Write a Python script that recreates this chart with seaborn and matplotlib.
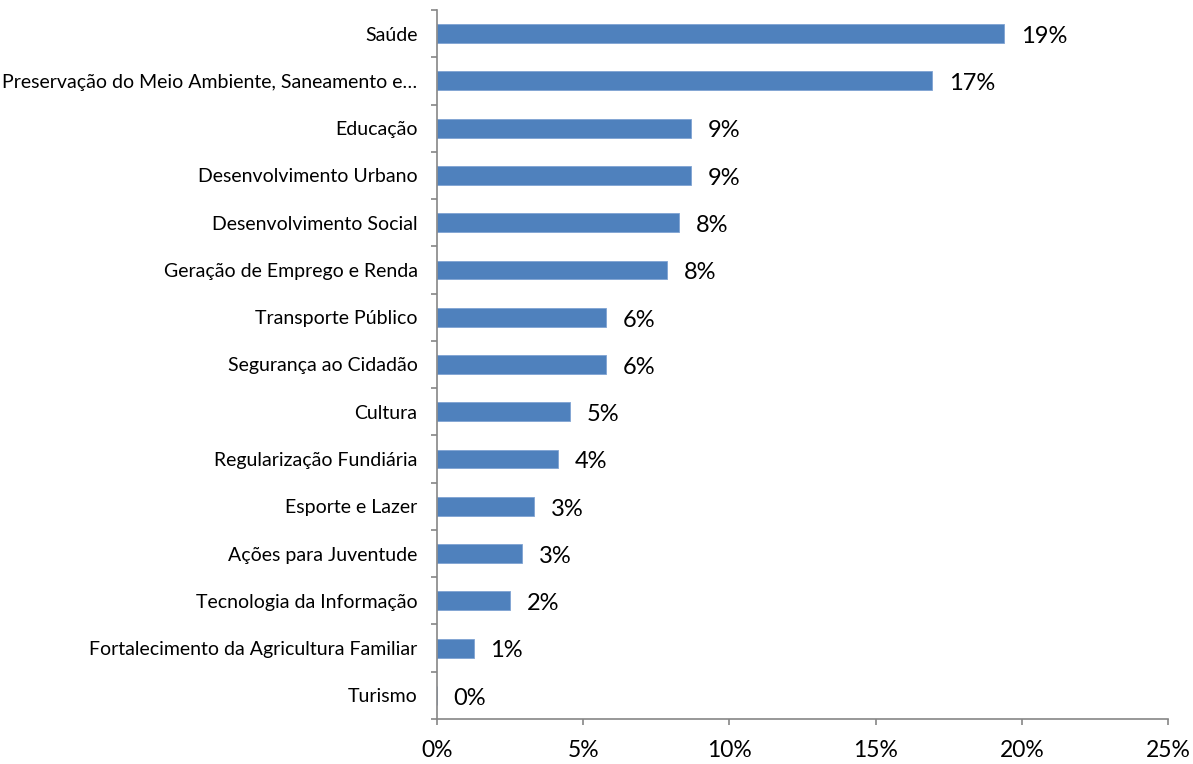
import matplotlib
matplotlib.use("Agg")
import matplotlib.pyplot as plt
import seaborn as sns
import pandas as pd
import numpy as np
from matplotlib.ticker import FixedLocator, FuncFormatter

categories = [
    "Saúde",
    "Preservação do Meio Ambiente, Saneamento e…",
    "Educação",
    "Desenvolvimento Urbano",
    "Desenvolvimento Social",
    "Geração de Emprego e Renda",
    "Transporte Público",
    "Segurança ao Cidadão",
    "Cultura",
    "Regularização Fundiária",
    "Esporte e Lazer",
    "Ações para Juventude",
    "Tecnologia da Informação",
    "Fortalecimento da Agricultura Familiar",
    "Turismo",
]
values = [19.40, 16.94, 8.69, 8.69, 8.27, 7.86, 5.79, 5.79, 4.55, 4.14, 3.32, 2.91, 2.49, 1.26, 0.0]
x_ticks = [0, 5, 10, 15, 20, 25]

sns.set_theme(style="white")
plt.rcParams['font.family'] = ['Lato', 'DejaVu Sans']

df = pd.DataFrame({"cat": categories, "val": values})

fig = plt.figure(figsize=(11.93, 7.64), dpi=100)
ax = fig.add_axes([437/1193, 1 - 719/764, (1168-437)/1193, (719-10)/764])

sns.barplot(data=df, y="cat", x="val", orient="h", color="#4F81BD",
            saturation=1, width=0.4, ax=ax, edgecolor="#7FA3D3", linewidth=0.6)

ax.set_xlim(0, 25)
ax.set_ylim(len(categories) - 0.5, -0.5)
ax.set_xlabel("")
ax.set_ylabel("")
ax.xaxis.set_major_locator(FixedLocator(x_ticks))
ax.xaxis.set_major_formatter(FuncFormatter(lambda v, p: f"{int(v)}%"))

for s in ["top", "right"]:
    ax.spines[s].set_visible(False)
for s in ["left", "bottom"]:
    ax.spines[s].set_color("#868686")
    ax.spines[s].set_linewidth(1.2)

ax.tick_params(axis="y", which="major", length=0, pad=14, labelsize=14, labelcolor="black")
ax.yaxis.set_minor_locator(FixedLocator(np.arange(-0.5, len(categories) + 0.5, 1)))
ax.tick_params(axis="y", which="minor", length=4, width=1.2, color="#868686", left=True)
ax.tick_params(axis="x", which="major", length=4, width=1.2, color="#868686",
               bottom=True, pad=11, labelsize=16.5, labelcolor="black")

for i, v in enumerate(values):
    ax.annotate(f"{round(v)}%", xy=(v, i), xytext=(12, -2), textcoords="offset points",
                ha="left", va="center", fontsize=17, color="black")

fig.savefig("out.png", dpi=100)
